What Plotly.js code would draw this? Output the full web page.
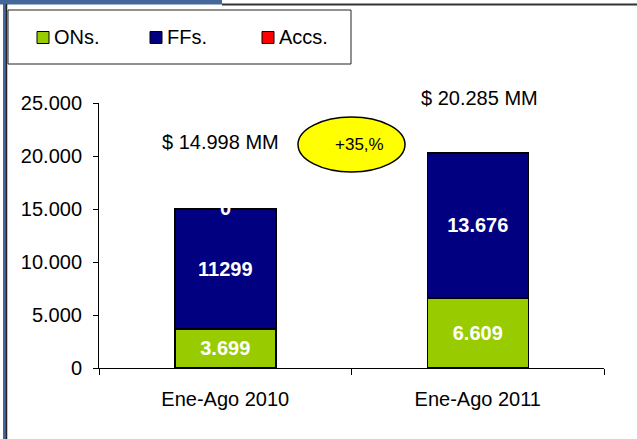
<!DOCTYPE html>
<html><head><meta charset="utf-8">
<script src="https://cdn.plot.ly/plotly-3.0.1.min.js"></script>
<style>html,body{margin:0;padding:0;background:#fff;}#chart{width:637px;height:439px;}</style>
</head><body><div id="chart"></div>
<script>
const categories = ["Ene-Ago 2010", "Ene-Ago 2011"];
const seriesNames = ["ONs.", "FFs.", "Accs."];
const onsValues = [3699, 6609];
const ffsValues = [11299, 13676];
const accsValues = [0, 0];
const onsLabels = ["3.699", "6.609"];
const ffsLabels = ["11299", "13.676"];
const accsLabels = ["0", ""];
const growthLabel = "+35,%";
const yTickValues = [0, 5000, 10000, 15000, 20000, 25000];

const FONT = "Liberation Sans, Arial, sans-serif";
const colors = ["#99cc00", "#000080", "#ff0000"];

function fmtThousands(n) {
  return String(Math.round(n)).replace(/\B(?=(\d{3})+(?!\d))/g, ".");
}
const totals = categories.map((c, i) => onsValues[i] + ffsValues[i] + accsValues[i]);

const lineStyle = {color: "#000", width: 1.5};
const traces = [
  {type: "bar", name: seriesNames[0], x: categories, y: onsValues, text: onsLabels,
   marker: {color: colors[0], line: lineStyle}},
  {type: "bar", name: seriesNames[1], x: categories, y: ffsValues, text: ffsLabels,
   marker: {color: colors[1], line: lineStyle}},
  {type: "bar", name: seriesNames[2], x: categories, y: accsValues, text: accsLabels,
   marker: {color: colors[2], line: lineStyle}}
].map(t => Object.assign(t, {
  textposition: "inside", insidetextanchor: "middle", textangle: 0,
  textfont: {family: FONT, size: 20, color: "#fff", weight: "bold"},
  hoverinfo: "none", cliponaxis: false, showlegend: false
}));

// paper coordinate helpers (plot area: x 99..604, y 103..368)
const PX = px => (px - 99) / 505;
const PY = py => (368 - py) / 265;

const shapes = [
  {type: "rect", xref: "paper", yref: "paper", x0: PX(0), x1: PX(222), y0: PY(0), y1: PY(4.5), fillcolor: "#44679c", line: {width: 0}},
  {type: "line", xref: "paper", yref: "paper", x0: PX(222), x1: PX(637), y0: PY(4.5), y1: PY(4.5), line: {color: "#333", width: 2}},
  {type: "rect", xref: "paper", yref: "paper", x0: PX(3), x1: PX(6), y0: PY(0), y1: PY(439), fillcolor: "#44679c", line: {width: 0}},
  {type: "line", xref: "paper", yref: "paper", x0: PX(6.5), x1: PX(6.5), y0: PY(4), y1: PY(439), line: {color: "#222", width: 1.5}},
  {type: "rect", xref: "paper", yref: "paper", x0: PX(8), x1: PX(351), y0: PY(10), y1: PY(64), fillcolor: "rgba(0,0,0,0)", line: {color: "#222", width: 1}},
  {type: "circle", xref: "paper", yref: "paper", x0: PX(298), x1: PX(405), y0: PY(172), y1: PY(117), fillcolor: "#ffff00", line: {color: "#000", width: 1.5}}
];

const annotations = [
  {xref: "x", yref: "paper", x: categories[0], y: PY(142), xshift: -5, yanchor: "middle", text: "$ " + fmtThousands(totals[0]) + " MM", showarrow: false, font: {family: FONT, size: 20, color: "#000"}},
  {xref: "x", yref: "paper", x: categories[1], y: PY(98), xshift: 2, yanchor: "middle", text: "$ " + fmtThousands(totals[1]) + " MM", showarrow: false, font: {family: FONT, size: 20, color: "#000"}},
  {xref: "paper", yref: "paper", x: PX(359), y: PY(144), yanchor: "middle", text: growthLabel, showarrow: false, font: {family: FONT, size: 17, color: "#000"}},
  {xref: "x", yref: "y", x: categories[0], y: totals[0], yshift: 1.5, yanchor: "middle", text: accsLabels[0], showarrow: false, font: {family: FONT, size: 20, color: "#fff", weight: "bold"}}
];

// legend entries (drawn as key squares + labels)
const legendSquareX = [37, 150, 262];
seriesNames.forEach((name, i) => {
  shapes.push({type: "rect", xref: "paper", yref: "paper",
    x0: PX(legendSquareX[i]), x1: PX(legendSquareX[i] + 12), y0: PY(43.5), y1: PY(31.5),
    fillcolor: colors[i], line: {color: "#000", width: 1}});
  annotations.push({xref: "paper", yref: "paper", x: PX(legendSquareX[i] + 15), xanchor: "left",
    y: PY(37.5), yanchor: "middle", text: name, showarrow: false,
    font: {family: FONT, size: 20, color: "#000"}});
});

const layout = {
  width: 637, height: 439,
  margin: {l: 99, r: 33, t: 103, b: 71, pad: 0},
  paper_bgcolor: "#fff", plot_bgcolor: "#fff",
  barmode: "stack", bargap: 0.6,
  separators: ",.",
  font: {family: FONT, size: 20, color: "#000"},
  showlegend: false,
  xaxis: {type: "category", showline: true, linecolor: "#000", linewidth: 1,
          ticks: "outside", tickson: "boundaries", ticklen: 6, tickcolor: "#000",
          showgrid: false, zeroline: false, ticklabelstandoff: 13,
          tickfont: {family: FONT, size: 20, color: "#000"}},
  yaxis: {range: [0, 25000], tickvals: yTickValues, tickformat: ",d",
          showline: true, linecolor: "#000", linewidth: 1, ticks: "outside", ticklen: 5, tickcolor: "#000",
          showgrid: false, zeroline: false, ticklabelstandoff: 7,
          tickfont: {family: FONT, size: 20, color: "#000"}},
  shapes: shapes,
  annotations: annotations
};

Plotly.newPlot("chart", traces, layout, {staticPlot: true, displayModeBar: false});
</script></body></html>
